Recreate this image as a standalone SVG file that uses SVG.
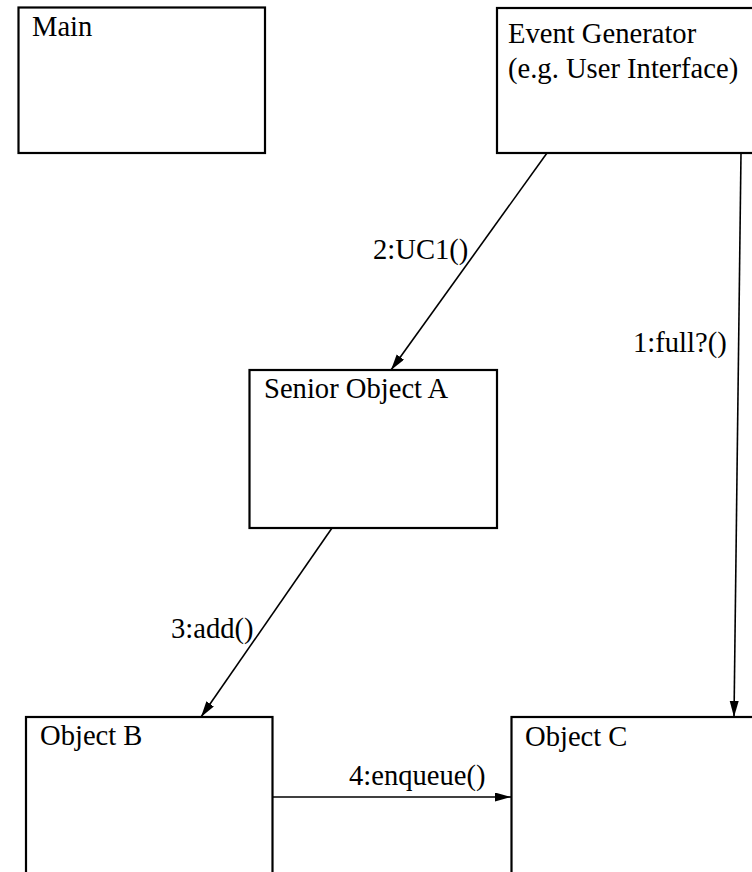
<svg xmlns="http://www.w3.org/2000/svg" width="752" height="872" viewBox="0 0 752 872">
  <defs>
    <marker id="arrow" markerUnits="userSpaceOnUse" markerWidth="17" markerHeight="10" refX="16" refY="4.5" orient="auto">
      <path d="M0,0 L16,4.5 L0,9 z" fill="#000"/>
    </marker>
    <style>
      .box { fill: #fff; stroke: #000; stroke-width: 2.2; }
      .label { font-family: "Liberation Serif", "Times New Roman", serif; font-size: 28.6px; fill: #000; }
      .conn { fill: none; stroke: #000; stroke-width: 1.6; marker-end: url(#arrow); }
    </style>
  </defs>
  <rect width="752" height="872" fill="#fff"/>

  <g id="main">
    <rect class="box" x="18.5" y="7.5" width="246.5" height="145.5"/>
    <text class="label" x="32" y="36">Main</text>
  </g>

  <g id="event-generator">
    <rect class="box" x="497" y="8" width="270" height="145"/>
    <text class="label" x="508" y="43">Event Generator</text>
    <text class="label" x="508" y="78">(e.g. User Interface)</text>
  </g>

  <g id="senior-object-a">
    <rect class="box" x="249.5" y="370" width="247.5" height="158"/>
    <text class="label" x="264" y="398">Senior Object A</text>
  </g>

  <g id="object-b">
    <rect class="box" x="26" y="717" width="246.5" height="170"/>
    <text class="label" x="40" y="745">Object B</text>
  </g>

  <g id="object-c">
    <rect class="box" x="511.5" y="717" width="260" height="170"/>
    <text class="label" x="525" y="746">Object C</text>
  </g>

  <g id="connectors">
    <line class="conn" x1="741" y1="153" x2="734" y2="717"/>
    <text class="label" x="633" y="352">1:full?()</text>

    <line class="conn" x1="547" y1="153" x2="391" y2="370"/>
    <text class="label" x="373" y="259">2:UC1()</text>

    <line class="conn" x1="332" y1="528" x2="201" y2="717"/>
    <text class="label" x="171" y="638">3:add()</text>

    <line class="conn" x1="272" y1="797" x2="511" y2="797"/>
    <text class="label" x="349" y="785">4:enqueue()</text>
  </g>
</svg>
